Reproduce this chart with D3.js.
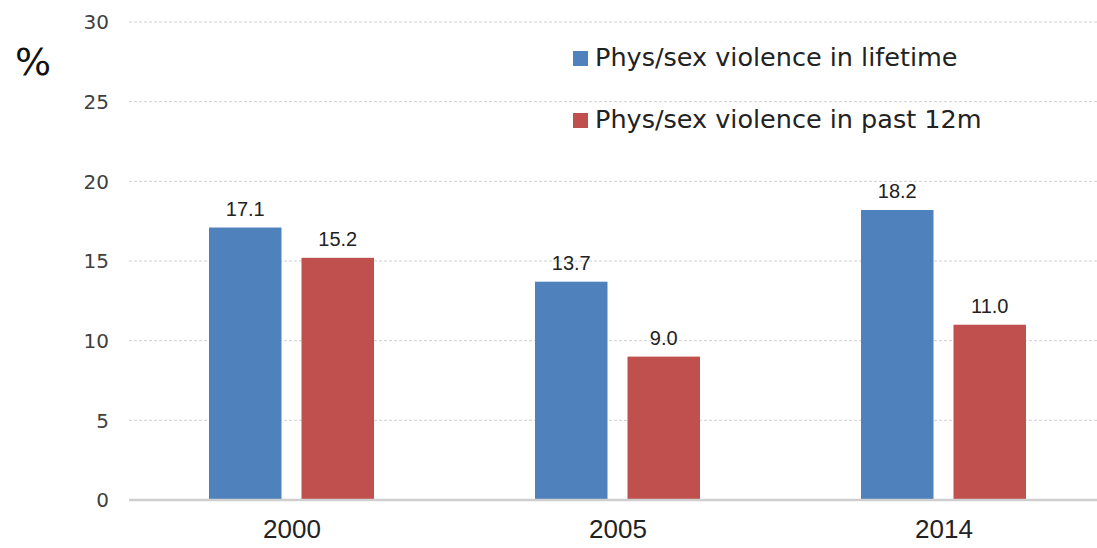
<!DOCTYPE html>
<html><head><meta charset="utf-8">
<script src="https://cdn.jsdelivr.net/npm/d3@7"></script>
<style>body{margin:0;background:#fff}svg{display:block}</style>
</head><body>
<svg id="c" width="1097" height="548"></svg>
<script>
const categories = ["2000", "2005", "2014"];
const seriesNames = ["Phys/sex violence in lifetime", "Phys/sex violence in past 12m"];
const lifetime = [17.1, 13.7, 18.2];
const past12m = [15.2, 9.0, 11.0];
const yTicks = [0, 5, 10, 15, 20, 25, 30];
const colors = ["#4f81bd", "#c0504d"];

const svg = d3.select("#c");
const font = "DejaVu Sans, Verdana, sans-serif";
const font2 = "Liberation Sans, Arial, sans-serif";
const y = d3.scaleLinear().domain([0, 30]).range([500, 22]);
const x = d3.scaleBand().domain(categories).range([129, 1107]);
const inner = d3.scaleBand().domain([0, 1]).range([80, 245]).paddingInner(20/92.5);

// gridlines
svg.append("g").selectAll("line").data(yTicks.filter(d => d > 0)).join("line")
  .attr("x1", 129).attr("x2", 1097)
  .attr("y1", d => y(d)).attr("y2", d => y(d))
  .attr("stroke", "#d0d0d0").attr("stroke-width", 1).attr("stroke-dasharray", "3,2");

// y tick labels
svg.append("g").selectAll("text").data(yTicks).join("text")
  .attr("x", 109).attr("y", d => y(d)).attr("dy", "0.36em")
  .attr("text-anchor", "end").attr("font-family", font).attr("font-size", 20)
  .attr("fill", "#404040").text(d => d);

// % label
svg.append("text").attr("x", 15).attr("y", 75).attr("font-family", font)
  .attr("font-size", 38).attr("fill", "#111").text("%");

const data = categories.map((c, i) => ({c, vals: [lifetime[i], past12m[i]]}));
const groups = svg.append("g").selectAll("g").data(data).join("g")
  .attr("transform", d => `translate(${x(d.c)},0)`);
groups.selectAll("rect").data(d => d.vals.map((v, k) => ({v, k}))).join("rect")
  .attr("x", d => inner(d.k)).attr("width", inner.bandwidth())
  .attr("y", d => y(d.v)).attr("height", d => y(0) - y(d.v))
  .attr("fill", d => colors[d.k]);
groups.selectAll("text").data(d => d.vals.map((v, k) => ({v, k}))).join("text")
  .attr("x", d => inner(d.k) + inner.bandwidth() / 2).attr("y", d => y(d.v) - 12)
  .attr("text-anchor", "middle").attr("font-family", font2).attr("font-size", 20)
  .attr("fill", "#222").text(d => d.v.toFixed(1));

// baseline
svg.append("line").attr("x1", 129).attr("x2", 1097).attr("y1", y(0)).attr("y2", y(0))
  .attr("stroke", "#cfcfcf").attr("stroke-width", 2.5);

// x labels
svg.append("g").selectAll("text").data(categories).join("text")
  .attr("x", d => x(d) + x.bandwidth() / 2).attr("y", 538)
  .attr("text-anchor", "middle").attr("font-family", font2).attr("font-size", 26)
  .attr("fill", "#222").text(d => d);

// legend
const leg = svg.append("g").selectAll("g").data(seriesNames).join("g")
  .attr("transform", (d, i) => `translate(573,${51 + i * 62})`);
leg.append("rect").attr("width", 15).attr("height", 15).attr("fill", (d, i) => colors[i]);
leg.append("text").attr("x", 22).attr("y", 15).attr("font-family", font)
  .attr("font-size", 25.5).attr("fill", "#222").text(d => d);
</script>
</body></html>
